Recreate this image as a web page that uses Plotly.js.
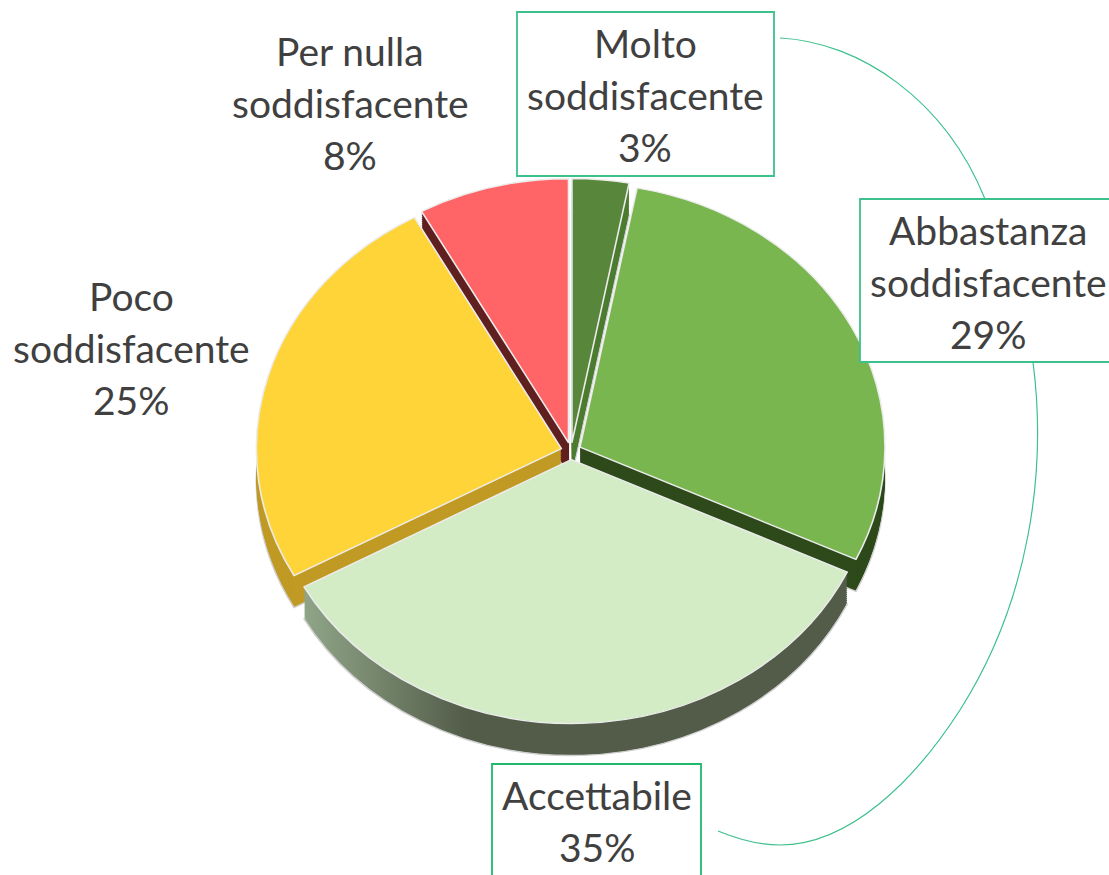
<!DOCTYPE html>
<html><head><meta charset="utf-8">
<script src="https://cdn.plot.ly/plotly-3.0.1.min.js"></script>
<style>html,body{margin:0;padding:0;background:#fff;overflow:hidden}#c{width:1109px;height:875px}</style>
</head><body><div id="c"></div>
<script>
const categories = ["Molto soddisfacente","Abbastanza soddisfacente","Accettabile","Poco soddisfacente","Per nulla soddisfacente"];
const percentValues = [3,29,35,25,8];
const topColors = ["#58873b","#79b650","#d3ecc6","#ffd438","#ff6567"];
const wallColors = ["#4c7c30","#2e4a1b","#525c49","#c09a24","#612020"];
const labelLines = [["Molto","soddisfacente"],["Abbastanza","soddisfacente"],["Accettabile"],["Poco","soddisfacente"],["Per nulla","soddisfacente"]];
const labelAnchors = [[645,43],[988,230],[597,795],[131,296],[350,51]];
const labelBoxes = [[517,12,774,176,"#3cc08c"],[860,199,1125,362,"#3cc08c"],[492,764,701,890,"#1fb86c"]];

const W=1109,H=875, CX=571, SRC_CY=437.5, CY=451, SY=0.865, R=305, PULL=0.033, DEPTH=32, STEP=2;
const fx=x=>x/W, fy=y=>1-y/H;
const half=R*(1+PULL);
function pieTrace(colors,offset,line){
  const dy=offset/SY;
  return {type:'pie',values:percentValues,labels:categories,sort:false,direction:'clockwise',rotation:0,
    pull:percentValues.map(()=>PULL),textinfo:'none',hoverinfo:'skip',showlegend:false,
    marker:{colors:colors,line:line},
    domain:{x:[fx(CX-half),fx(CX+half)],y:[1-(SRC_CY+dy+half)/H,1-(SRC_CY+dy-half)/H]}};
}
const traces=[];
for(let d=DEPTH;d>0;d-=STEP){
  traces.push(pieTrace(wallColors,d,d===DEPTH?{color:'#cfcfcf',width:1.6}:{width:0}));
}
traces.push(pieTrace(topColors,0,{color:'#ececec',width:1.6}));

const annotations=[];
labelLines.forEach((lines,i)=>{
  const all=lines.concat([percentValues[i]+'%']);
  all.forEach((t,j)=>annotations.push({text:t,xref:'paper',yref:'paper',x:fx(labelAnchors[i][0]),y:fy(labelAnchors[i][1]+j*52),
    xanchor:'center',yanchor:'middle',showarrow:false,font:{family:'Lato, Carlito, sans-serif',size:39,color:'#404040'}}));
});
const shapes=labelBoxes.map(b=>({type:'rect',xref:'paper',yref:'paper',x0:fx(b[0]),x1:fx(b[2]),y0:fy(b[1]),y1:fy(b[3]),
  fillcolor:'#fff',line:{color:b[4],width:1.8},layer:'above'}));
const P=(x,y)=>fx(x)+','+fy(y);
[ ['M',[780,38],'C',[860,42],[945,100],[985,199]],
  ['M',[1033,362],'C',[1047,470],[1030,600],[960,710],'C',[915,780],[850,845],[780,845],'C',[755,845],[735,838],[718,831]]
].forEach(seg=>{
  const path=seg.map(s=>typeof s==='string'?s:P(s[0],s[1])).join(' ');
  shapes.push({type:'path',xref:'paper',yref:'paper',path:path,line:{color:'#3cc08c',width:1.2},layer:'above'});
});

Plotly.newPlot('c',traces,{width:W,height:H,margin:{l:0,r:0,t:0,b:0},paper_bgcolor:'#fff',plot_bgcolor:'#fff',showlegend:false,annotations,shapes},
  {displayModeBar:false,staticPlot:true}).then(gd=>{
  const layer=gd.querySelector('.pielayer');
  layer.setAttribute('transform','translate(0,'+(CY-SY*SRC_CY)+') scale(1,'+SY+')');
  const svg=gd.querySelector('.main-svg');
  const defs=svg.querySelector('defs')||svg.insertBefore(document.createElementNS('http://www.w3.org/2000/svg','defs'),svg.firstChild);
  const g=document.createElementNS('http://www.w3.org/2000/svg','linearGradient');
  g.setAttribute('id','accWall');g.setAttribute('x1','0');g.setAttribute('x2','1');g.setAttribute('y1','0');g.setAttribute('y2','0');
  [[0,'#8fa588'],[0.12,'#78896f'],[0.3,'#525c49'],[1,'#525c49']].forEach(s=>{
    const st=document.createElementNS('http://www.w3.org/2000/svg','stop');
    st.setAttribute('offset',s[0]);st.setAttribute('stop-color',s[1]);g.appendChild(st);
  });
  defs.appendChild(g);
  const tr=layer.querySelectorAll('.trace');
  tr.forEach((t,i)=>{ if(i===tr.length-1) return;
    const sl=t.querySelectorAll('.slice path.surface');
    if(sl[2]) sl[2].style.fill='url(#accWall)';
  });
});
</script></body></html>
